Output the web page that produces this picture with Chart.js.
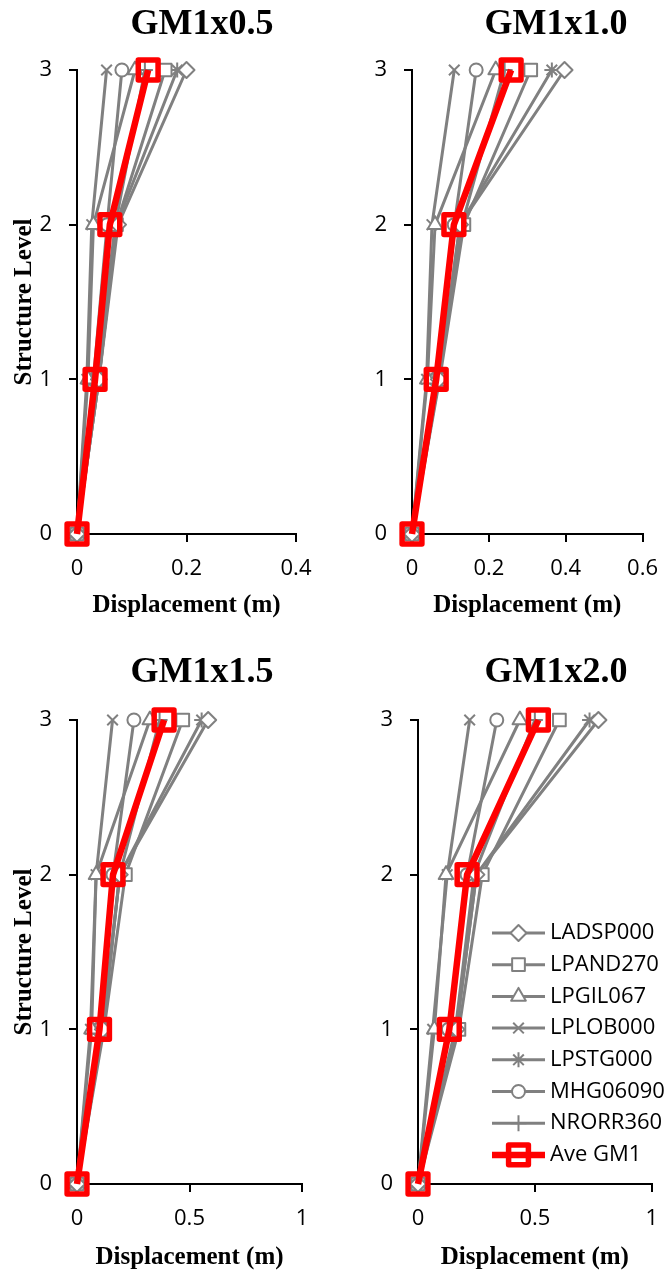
<!DOCTYPE html>
<html>
<head>
<meta charset="utf-8">
<script src="https://cdn.jsdelivr.net/npm/chart.js@4.4.1/dist/chart.umd.min.js"></script>
<style>
  html, body { margin: 0; padding: 0; background: #fff; }
  body { width: 672px; height: 1278px; position: relative; overflow: hidden; }
  .panel { position: absolute; }
</style>
</head>
<body>
<div class="panel" style="left:0;top:0"><canvas id="c1" width="336" height="650"></canvas></div>
<div class="panel" style="left:336px;top:0"><canvas id="c2" width="336" height="650"></canvas></div>
<div class="panel" style="left:0;top:650px"><canvas id="c3" width="336" height="628"></canvas></div>
<div class="panel" style="left:336px;top:650px"><canvas id="c4" width="336" height="628"></canvas></div>
<script>
// --- data ---------------------------------------------------------------
const levels = [0, 1, 2, 3];
const seriesNames = ["LADSP000", "LPAND270", "LPGIL067", "LPLOB000", "LPSTG000", "MHG06090", "NRORR360", "Ave GM1"];
const panelTitles = ["GM1x0.5", "GM1x1.0", "GM1x1.5", "GM1x2.0"];
const xMaxes = [0.4, 0.6, 1, 1];
const xSteps = [0.2, 0.2, 0.5, 0.5];

// displacement (m) at levels 0..3, one row per series (same order as seriesNames)
const dispGM05 = [
  [0, 0.040, 0.075, 0.200],
  [0, 0.040, 0.072, 0.161],
  [0, 0.020, 0.030, 0.106],
  [0, 0.018, 0.027, 0.054],
  [0, 0.040, 0.072, 0.183],
  [0, 0.030, 0.055, 0.082],
  [0, 0.035, 0.070, 0.124],
  [0, 0.033, 0.060, 0.130],
];
const dispGM10 = [
  [0, 0.070, 0.125, 0.397],
  [0, 0.072, 0.135, 0.309],
  [0, 0.040, 0.060, 0.218],
  [0, 0.038, 0.052, 0.110],
  [0, 0.070, 0.125, 0.364],
  [0, 0.060, 0.110, 0.167],
  [0, 0.068, 0.130, 0.241],
  [0, 0.063, 0.109, 0.258],
];
const dispGM15 = [
  [0, 0.115, 0.190, 0.583],
  [0, 0.120, 0.215, 0.470],
  [0, 0.065, 0.085, 0.324],
  [0, 0.060, 0.085, 0.158],
  [0, 0.115, 0.190, 0.554],
  [0, 0.095, 0.160, 0.253],
  [0, 0.110, 0.190, 0.367],
  [0, 0.100, 0.160, 0.387],
];
const dispGM20 = [
  [0, 0.165, 0.250, 0.772],
  [0, 0.175, 0.275, 0.605],
  [0, 0.070, 0.120, 0.436],
  [0, 0.063, 0.125, 0.221],
  [0, 0.165, 0.250, 0.734],
  [0, 0.130, 0.210, 0.337],
  [0, 0.160, 0.240, 0.500],
  [0, 0.134, 0.210, 0.515],
];

// --- styles -------------------------------------------------------------
const GRAY = "#808080";
const RED = "#ff0000";
const SERIF = "'Liberation Serif', 'Times New Roman', serif";
const SANS = "'Open Sans', 'Liberation Sans', sans-serif";
const markerStyles = ["rectRot", "rect", "triangle", "crossRot", "star", "circle", "cross", "rect"];
const markerSizes = [8, 9, 8.5, 7.5, 7.5, 6.5, 8, 14];

Chart.defaults.color = "#000";
Chart.defaults.font.family = SANS;

function buildDatasets(rows) {
  return seriesNames.map((name, i) => {
    const isAve = i === seriesNames.length - 1;
    return {
      label: name,
      data: levels.map((lv, k) => ({ x: rows[i][k], y: lv })),
      showLine: true,
      borderColor: isAve ? RED : GRAY,
      backgroundColor: isAve ? RED : GRAY,
      borderWidth: isAve ? 6.5 : 3,
      pointStyle: markerStyles[i],
      pointRadius: markerSizes[i],
      pointBorderWidth: isAve ? 5.5 : 2,
      pointBorderColor: isAve ? RED : GRAY,
      pointBackgroundColor: isAve ? "rgba(0,0,0,0)" : "#fff",
      clip: false,
      order: isAve ? -1 : 0,
    };
  });
}

// panel title drawn at a set spot (Excel puts it slightly right of centre)
const panelTitle = {
  id: "panelTitle",
  beforeDatasetsDraw(chart) { chart.ctx.lineJoin = "round"; },
  afterDraw(chart, args, opts) {
    const ctx = chart.ctx;
    ctx.save();
    ctx.font = "bold 36px " + SERIF;
    ctx.fillStyle = "#000";
    ctx.textAlign = "center";
    ctx.textBaseline = "middle";
    ctx.fillText(opts.text, opts.x, opts.y);
    ctx.restore();
  },
};

// legend floating inside the last panel
const floatLegend = {
  id: "floatLegend",
  afterDraw(chart, args, opts) {
    if (!opts.show) return;
    const ctx = chart.ctx;
    ctx.save();
    chart.data.datasets.forEach((ds, i) => {
      const y = opts.y + i * opts.step;
      ctx.lineJoin = "round";
      ctx.strokeStyle = ds.borderColor;
      ctx.lineWidth = ds.borderWidth;
      ctx.beginPath();
      ctx.moveTo(opts.x, y);
      ctx.lineTo(opts.x + opts.len, y);
      ctx.stroke();
      ctx.strokeStyle = ds.pointBorderColor;
      ctx.fillStyle = ds.pointBackgroundColor;
      ctx.lineWidth = ds.pointBorderWidth;
      Chart.helpers.drawPoint(ctx, {
        pointStyle: ds.pointStyle, rotation: 0, radius: ds.pointRadius, borderWidth: ds.pointBorderWidth,
      }, opts.x + opts.len / 2, y);
      ctx.fillStyle = "#000";
      ctx.font = "22px " + SANS;
      ctx.textAlign = "left";
      ctx.textBaseline = "middle";
      ctx.fillText(ds.label, opts.x + opts.len + 5, y);
    });
    ctx.restore();
  },
};

function makePanel(canvasId, idx, rows, geo) {
  const canvas = document.getElementById(canvasId);
  const W = canvas.width, H = canvas.height;
  return new Chart(canvas, {
    type: "scatter",
    data: { datasets: buildDatasets(rows) },
    plugins: [panelTitle, floatLegend],
    options: {
      responsive: false,
      animation: false,
      events: [],
      layout: { padding: { left: 0, top: geo.top, right: W - geo.right, bottom: 0 } },
      plugins: {
        legend: { display: false },
        title: { display: false },
        tooltip: { enabled: false },
        panelTitle: { text: panelTitles[idx], x: geo.titleX, y: geo.titleY },
        floatLegend: { show: !!geo.legend, x: 156, y: 283, step: 31.7, len: 53 },
      },
      scales: {
        x: {
          type: "linear",
          min: 0,
          max: xMaxes[idx],
          ticks: {
            stepSize: xSteps[idx], padding: 14, font: { size: 22, family: SANS },
            callback: (v) => String(Math.round(v * 100) / 100),
          },
          grid: { drawOnChartArea: false, tickLength: 8, lineWidth: 2, color: "#000" },
          border: { color: "#000", width: 2 },
          title: {
            display: true, text: "Displacement (m)", color: "#000",
            font: { size: 25, weight: "bold", family: SERIF },
            padding: { top: 0, bottom: geo.xTitlePad },
          },
          afterFit(scale) { scale.height = H - geo.bottom; },
        },
        y: {
          type: "linear",
          min: 0,
          max: 3,
          ticks: { stepSize: 1, padding: 17, font: { size: 22, family: SANS } },
          grid: { drawOnChartArea: false, tickLength: 8, lineWidth: 2, color: "#000" },
          border: { color: "#000", width: 2 },
          title: {
            display: !!geo.yTitle, text: "Structure Level", color: "#000",
            font: { size: 25, weight: "bold", family: SERIF },
            padding: { top: 10, bottom: 0 },
          },
          afterFit(scale) { scale.width = geo.left; },
        },
      },
    },
  });
}

makePanel("c1", 0, dispGM05, { left: 77, right: 296, top: 70, bottom: 534, titleX: 202, titleY: 25, xTitlePad: 29, yTitle: true });
makePanel("c2", 1, dispGM10, { left: 76, right: 314, top: 70, bottom: 534, titleX: 220, titleY: 25, xTitlePad: 29 });
makePanel("c3", 2, dispGM15, { left: 77, right: 302, top: 70, bottom: 534, titleX: 202, titleY: 23, xTitlePad: 5, yTitle: true });
makePanel("c4", 3, dispGM20, { left: 82, right: 321, top: 70, bottom: 534, titleX: 220, titleY: 23, xTitlePad: 5, legend: true });
</script>
</body>
</html>
